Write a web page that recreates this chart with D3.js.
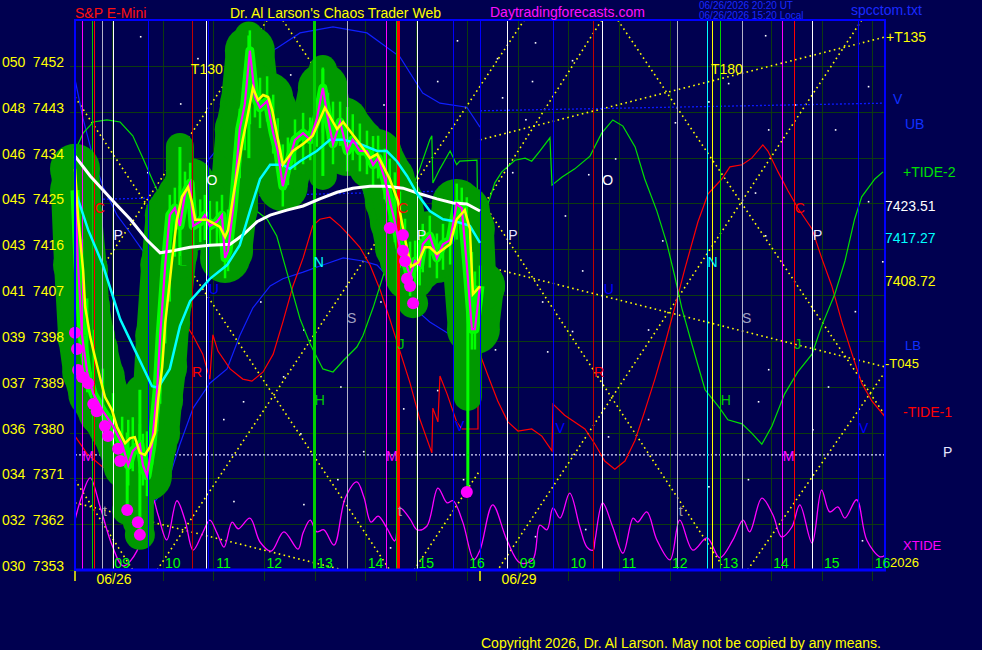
<!DOCTYPE html>
<html>
<head>
<meta charset="utf-8">
<script src="https://cdn.jsdelivr.net/npm/d3@7"></script>
<style>
  html, body { margin: 0; padding: 0; background: #000050; }
  svg { display: block; font-family: 'Liberation Sans', Arial, sans-serif; }
</style>
</head>
<body>
<svg id="chart" width="982" height="650"></svg>
<script>
// time is in session hours: 0 = 09:00 on 06/26, 8 = 09:00 on 06/29
const yTicks = [7353, 7362, 7371, 7380, 7389, 7398, 7407, 7416, 7425, 7434, 7443, 7452];
const yCodes = ['030', '032', '034', '036', '037', '039', '041', '043', '045', '046', '048', '050'];
const hourLabels = ['09', '10', '11', '12', '13', '14', '15', '16', '09', '10', '11', '12', '13', '14', '15', '16'];
const dayLabels = [['06/26', 0.04], ['06/29', 8.03]];
const dayStarts = [-0.73, 7.26];

const priceClose = [[-0.73,7427.6],[-0.67,7412.9],[-0.59,7399.0],[-0.49,7391.9],[-0.37,7387.6],[-0.18,7384.2],[0.02,7381.3],[0.20,7377.7],[0.32,7373.6],[0.41,7376.4],[0.55,7377.7],[0.61,7373.6],[0.69,7371.5],[0.79,7377.7],[0.89,7388.4],[0.95,7399.0],[1.05,7412.9],[1.14,7422.7],[1.24,7424.1],[1.34,7420.6],[1.44,7426.9],[1.54,7429.0],[1.60,7420.6],[1.74,7421.4],[1.83,7422.7],[1.93,7420.6],[2.07,7421.4],[2.17,7422.7],[2.23,7414.3],[2.29,7415.7],[2.39,7424.1],[2.52,7439.6],[2.62,7444.5],[2.72,7455.0],[2.82,7445.9],[2.92,7443.8],[3.06,7445.1],[3.18,7438.8],[3.27,7435.3],[3.37,7428.4],[3.47,7432.6],[3.61,7437.5],[3.77,7438.8],[3.91,7437.5],[4.04,7441.6],[4.16,7447.7],[4.26,7441.6],[4.36,7436.7],[4.50,7441.0],[4.64,7435.3],[4.75,7437.5],[4.89,7435.3],[5.03,7435.3],[5.15,7432.6],[5.25,7433.9],[5.38,7429.8],[5.48,7425.5],[5.58,7421.4],[5.68,7416.4],[5.78,7413.7],[5.88,7410.8],[5.98,7413.7],[6.07,7412.9],[6.13,7417.0],[6.27,7418.6],[6.41,7414.3],[6.53,7417.0],[6.67,7417.8],[6.80,7424.9],[6.90,7424.1],[7.00,7412.9],[7.10,7400.3],[7.16,7400.3],[7.26,7408.8]];

const priceFast = [[-0.73,7431.8],[-0.67,7422.3],[-0.57,7411.9],[-0.53,7404.7],[-0.43,7398.8],[-0.37,7396.2],[-0.24,7390.9],[-0.14,7387.0],[0,7384.4],[0.10,7381.1],[0.26,7377.9],[0.36,7378.9],[0.45,7379.1],[0.55,7376.0],[0.65,7375.6],[0.75,7377.2],[0.85,7379.9],[0.91,7386.4],[0.99,7392.9],[1.05,7401.5],[1.10,7406.0],[1.20,7415.3],[1.28,7421.8],[1.38,7426.3],[1.50,7428.2],[1.58,7425.1],[1.64,7421.8],[1.74,7421.8],[1.87,7421.8],[1.99,7421.2],[2.13,7420.4],[2.23,7418.4],[2.29,7419.8],[2.39,7426.3],[2.49,7432.2],[2.58,7437.5],[2.66,7441.4],[2.78,7447.7],[2.88,7445.3],[2.98,7446.3],[3.08,7445.9],[3.16,7443.4],[3.37,7432.6],[3.57,7435.3],[3.77,7436.7],[3.96,7438.3],[4.20,7443.8],[4.44,7439.6],[4.56,7441.0],[4.89,7436.7],[5.09,7433.9],[5.23,7434.7],[5.48,7429.8],[5.64,7425.5],[5.78,7418.0],[5.90,7412.6],[6.04,7413.4],[6.17,7416.4],[6.27,7416.4],[6.41,7415.1],[6.67,7417.0],[6.80,7421.9],[6.96,7423.7],[7.06,7420.0],[7.12,7407.2],[7.26,7408.72]];

const priceMid = [[-0.73,7427.6],[-0.47,7419.8],[-0.18,7412.9],[0.16,7402.3],[0.49,7395.4],[0.79,7389.1],[0.91,7388.8],[1.14,7392.5],[1.34,7400.9],[1.54,7405.8],[1.93,7410.2],[2.27,7412.9],[2.52,7416.8],[2.72,7423.5],[2.92,7429.8],[3.12,7432.6],[3.37,7432.6],[3.51,7431.8],[3.71,7433.3],[4.04,7435.3],[4.30,7437.5],[4.56,7437.5],[4.89,7436.7],[5.23,7435.3],[5.42,7435.3],[5.62,7433.3],[5.82,7430.4],[6.02,7426.9],[6.27,7423.5],[6.53,7421.9],[6.80,7421.4],[7.06,7420.6],[7.26,7417.27]];

const priceSlow = [[-0.73,7434.3],[-0.43,7430.4],[0.02,7425.5],[0.36,7421.9],[0.69,7417.8],[0.95,7415.3],[1.20,7415.7],[1.54,7416.4],[1.93,7416.8],[2.33,7417.0],[2.58,7418.8],[2.86,7421.4],[3.12,7422.7],[3.45,7423.7],[3.77,7424.5],[4.10,7425.9],[4.44,7427.2],[4.75,7428.0],[5.09,7428.4],[5.42,7428.4],[5.74,7428.0],[6.07,7426.9],[6.41,7425.9],[6.73,7425.1],[7.00,7424.9],[7.26,7423.51]];

// price bars that stick out of the band: [time, low, high, lowest point still inside the halo]
const barSpikes = [[0.30,7365.0,7380.0,7365.0],[0.55,7360.5,7388.4,7360.5],[1.34,7412.9,7436.1,7412.9],[2.70,7433.9,7458.0,7433.9],[4.16,7430.4,7451.4,7430.4],[7.02,7368.3,7408.0,7387.0]];

const lowDots = [[-0.73,7399.6],[-0.69,7396.4],[-0.67,7392.3],[-0.59,7390.9],[-0.47,7389.7],[-0.37,7385.6],[-0.30,7384.2],[-0.14,7381.3],[-0.08,7379.3],[0.12,7376.8],[0.16,7374.4],[0.30,7364.8],[0.51,7362.4],[0.55,7359.9],[5.48,7420.2],[5.74,7418.8],[5.74,7415.7],[5.78,7413.7],[5.82,7410.2],[5.88,7408.8],[5.94,7405.4],[7.00,7368.3]];

const tide2 = [[-0.73,7435.3],[-0.57,7438.8],[-0.37,7441.0],[-0.10,7441.4],[0.16,7441.0],[0.41,7438.3],[0.61,7433.9],[0.79,7429.8],[0.95,7426.3],[1.14,7423.3],[1.34,7421.8],[1.64,7421.0],[1.93,7421.4],[2.23,7422.1],[2.47,7422.7],[2.78,7424.1],[3.06,7421.9],[3.25,7418.6],[3.45,7411.5],[3.71,7402.3],[3.91,7397.4],[4.16,7392.5],[4.36,7391.9],[4.56,7394.1],[4.83,7396.8],[4.95,7399.0],[5.15,7404.5],[5.35,7410.8],[5.54,7417.0],[5.74,7422.7],[5.94,7428.4],[6.07,7431.8],[6.27,7437.5],[6.31,7438.3],[6.33,7429.0],[6.47,7431.8],[6.67,7435.3],[6.80,7432.6],[6.86,7433.3],[7.20,7433.5],[7.22,7417.8],[7.26,7420.0],[7.55,7429.0],[7.69,7431.2],[7.95,7433.5],[8.15,7433.9],[8.28,7433.3],[8.44,7435.3],[8.64,7437.9],[8.68,7428.6],[8.88,7430.2],[9.13,7431.8],[9.43,7434.3],[9.66,7438.8],[9.88,7441.4],[10.08,7440.2],[10.32,7436.1],[10.51,7429.8],[10.75,7423.5],[10.95,7417.0],[11.10,7410.8],[11.24,7404.5],[11.44,7397.4],[11.70,7388.4],[11.99,7384.8],[12.15,7382.5],[12.43,7381.7],[12.62,7379.9],[12.82,7377.7],[13.02,7381.3],[13.27,7387.6],[13.53,7391.9],[13.81,7395.4],[14.00,7400.9],[14.26,7407.2],[14.46,7413.7],[14.65,7421.9],[14.79,7426.3],[15.05,7429.8],[15.21,7431.2]];

const tide1 = [[-0.73,7379.3],[-0.49,7375.8],[-0.18,7373.2],[0.16,7372.8],[0.49,7375.0],[0.81,7380.7],[1.08,7386.2],[1.28,7391.1],[1.30,7400.9],[1.48,7400.9],[1.60,7399.0],[1.79,7395.4],[1.93,7390.5],[1.99,7399.2],[2.09,7396.0],[2.33,7392.5],[2.58,7390.5],[2.76,7390.1],[2.98,7391.9],[3.18,7395.4],[3.37,7401.7],[3.57,7408.8],[3.77,7414.3],[3.96,7420.6],[4.10,7421.9],[4.30,7422.3],[4.50,7420.6],[4.69,7418.6],[4.89,7416.4],[5.09,7412.9],[5.29,7408.0],[5.48,7402.3],[5.68,7396.0],[5.88,7389.7],[6.07,7382.7],[6.31,7376.0],[6.33,7384.8],[6.43,7382.1],[6.47,7391.1],[6.61,7387.6],[6.80,7382.1],[6.90,7380.7],[7.22,7380.7],[7.22,7397.6],[7.26,7395.4],[7.42,7391.1],[7.61,7386.2],[7.81,7382.1],[8.01,7380.3],[8.28,7380.7],[8.48,7379.3],[8.68,7376.4],[8.70,7385.6],[8.93,7383.4],[9.33,7380.7],[9.53,7377.7],[9.72,7374.4],[9.92,7372.8],[10.12,7374.4],[10.32,7378.5],[10.51,7384.2],[10.71,7390.5],[10.91,7397.4],[11.10,7404.5],[11.30,7412.1],[11.56,7421.4],[11.76,7426.9],[12.03,7429.8],[12.19,7432.2],[12.43,7432.6],[12.62,7433.9],[12.84,7436.5],[12.94,7435.3],[13.14,7431.2],[13.33,7427.6],[13.53,7424.1],[13.81,7420.0],[14.00,7414.3],[14.20,7408.8],[14.40,7401.7],[14.60,7395.4],[14.79,7389.7],[14.99,7386.2],[15.25,7383.1]];

const xtide = [[-0.73,7362.8],[-0.59,7367.7],[-0.43,7371.1],[-0.24,7365.6],[0.00,7357.9],[0.22,7353.8],[0.49,7356.7],[0.69,7366.8],[0.79,7367.3],[0.91,7363.8],[1.08,7358.9],[1.28,7366.6],[1.44,7362.8],[1.60,7356.9],[1.78,7360.1],[1.93,7362.8],[2.07,7360.3],[2.21,7357.5],[2.37,7362.4],[2.49,7361.1],[2.72,7363.2],[2.92,7358.5],[3.14,7356.7],[3.39,7360.5],[3.67,7357.1],[3.77,7360.3],[3.91,7362.8],[4.04,7360.5],[4.18,7360.9],[4.38,7357.9],[4.60,7367.1],[4.83,7370.3],[4.97,7367.3],[5.11,7362.4],[5.25,7363.6],[5.42,7361.3],[5.58,7358.7],[5.68,7365.2],[5.88,7363.0],[6.02,7360.9],[6.21,7361.6],[6.43,7369.1],[6.61,7366.2],[6.73,7366.6],[6.92,7362.4],[7.14,7355.0],[7.26,7356.9],[7.51,7365.8],[7.79,7358.9],[8.05,7354.4],[8.30,7355.0],[8.44,7361.8],[8.58,7360.9],[8.70,7365.2],[8.84,7363.2],[9.03,7368.1],[9.23,7361.4],[9.37,7357.5],[9.49,7356.9],[9.53,7358.9],[9.68,7366.2],[9.88,7361.4],[10.08,7356.3],[10.28,7363.2],[10.37,7362.4],[10.55,7364.4],[10.75,7358.9],[11.01,7355.0],[11.20,7362.8],[11.46,7356.9],[11.74,7359.3],[11.99,7355.4],[12.25,7358.9],[12.45,7362.8],[12.58,7360.5],[12.82,7367.1],[13.04,7363.8],[13.21,7359.5],[13.41,7361.4],[13.57,7365.8],[13.81,7358.3],[14.00,7368.7],[14.16,7364.4],[14.32,7365.4],[14.46,7363.2],[14.69,7366.8],[14.89,7358.9],[15.15,7355.6],[15.25,7355.9]];

const bandUpper = [[-0.73,7449.4],[-0.57,7441.6],[-0.37,7433.9],[-0.18,7428.4],[0.10,7422.7],[0.36,7419.2],[0.61,7415.7],[0.81,7412.3],[1.01,7412.3],[1.20,7416.8],[1.40,7424.7],[1.68,7430.6],[1.93,7433.9],[2.33,7438.8],[2.72,7450.8],[2.98,7454.2],[3.25,7455.5],[3.71,7458.5],[4.36,7459.7],[5.03,7458.5],[5.68,7453.8],[6.13,7446.7],[6.47,7444.7],[7.00,7443.9],[7.26,7440.0]];

const bandLower = [[0.55,7362.8],[0.81,7366.0],[1.01,7368.7],[1.14,7371.5],[1.34,7377.7],[1.60,7384.8],[1.93,7389.7],[2.27,7392.5],[2.52,7399.0],[2.78,7404.5],[3.12,7408.8],[3.37,7410.2],[3.77,7411.5],[4.16,7412.9],[4.56,7414.3],[4.95,7413.7],[5.23,7412.9],[5.48,7410.2],[5.74,7406.6],[6.02,7403.9],[6.27,7401.7],[6.61,7399.6],[6.92,7398.6],[7.26,7399.0]];

const vLevels = [[[-0.73,7425.7],[7.26,7427.6]], [[7.26,7443.2],[15.25,7444.7]]];
const midLevel = 7375.6;

const trendLines = [
  [[-0.73,7445.9],[5.48,7353]],
  [[3.06,7461.0],[-0.73,7404.5]],
  [[3.37,7461.0],[7.26,7403.1]],
  [[-0.73,7370.7],[0.41,7353]],
  [[0.89,7353],[8.13,7461.0]],
  [[5.96,7353],[7.26,7372.6]],
  [[-0.73,7366.2],[4.56,7353]],
  [[9.66,7461.0],[7.16,7422.0]],
  [[9.98,7461.0],[15.25,7383.4]],
  [[14.79,7461.0],[7.61,7353]],
  [[7.30,7425.5],[12.03,7354.0]],
  [[12.54,7353],[15.25,7391.9]],
  [[7.26,7437.5],[15.25,7457.7]],
  [[7.26,7412.9],[15.25,7392.9]]
];

const cycleLines = {
  white: [0.02, 1.85, 6.02, 7.79, 9.66, 13.81],
  blue: [0.71, 1.89, 6.73, 7.26, 8.70, 14.71],
  magenta: [-0.59, 5.40, 13.21],
  red: [-0.36, 5.64, 13.45],
  darkred: [1.58, 9.49],
  green: [-0.39, 3.98, 5.60, 11.99],
  grey: [-0.20, 4.64, 11.14, 12.43],
  cyan: [11.74],
  yellow: [11.83]
};
const boldCycles = [3.98, 5.64];

const letters = [['C',-0.24,7424.1],['P',0.12,7418.8],['O',1.97,7429.6],['L',1.40,7413.7],['U',2.01,7408.2],['R',1.68,7391.9],['N',4.08,7413.5],['S',4.73,7402.5],['H',4.10,7386.4],['M',-0.47,7375.4],['M',5.52,7375.4],['M',13.35,7375.4],['t',-0.14,7364.6],['t',5.68,7364.6],['t',11.22,7364.6],['J',5.70,7397.4],['J',13.53,7397.4],['C',5.74,7424.1],['C',13.57,7424.1],['P',6.11,7418.8],['P',7.91,7418.8],['P',13.92,7418.8],['V',6.86,7381.3],['V',8.84,7380.9],['V',14.83,7380.9],['O',9.78,7429.6],['U',9.80,7408.2],['R',9.61,7391.9],['N',11.85,7413.5],['S',12.52,7402.5],['H',12.11,7386.4]];
const timeMarks = [['T130',1.87,7451.4],['T180',12.13,7451.4]];

const stars = [[0.55,7457.9],[1.34,7444.7],[0.69,7431.2],[3.12,7455.7],[3.51,7450.4],[2.58,7441.0],[1.68,7453.6],[5.09,7438.8],[6.41,7449.1],[6.80,7457.1],[5.29,7405.8],[2.92,7405.8],[3.77,7400.3],[3.37,7391.1],[2.58,7386.2],[2.19,7382.7],[3.71,7379.9],[4.50,7389.1],[5.74,7384.8],[4.95,7376.4],[4.44,7370.9],[2.39,7366.6],[3.77,7366.0],[5.48,7357.5],[6.92,7370.9],[6.41,7388.4],[5.35,7444.5],[7.59,7453.6],[8.34,7456.7],[9.07,7453.2],[8.28,7449.1],[7.69,7445.9],[8.15,7441.6],[7.89,7431.2],[9.39,7430.8],[8.93,7422.7],[9.27,7411.9],[8.48,7405.8],[9.07,7400.0],[7.55,7396.4],[8.58,7396.0],[10.57,7400.3],[10.85,7417.8],[9.92,7433.9],[11.10,7441.0],[11.76,7445.1],[12.15,7448.7],[12.88,7458.1],[13.47,7444.5],[12.94,7439.6],[12.68,7427.2],[12.88,7418.8],[12.94,7392.5],[12.74,7386.2],[13.81,7380.7],[14.12,7389.1],[14.65,7403.9],[14.91,7448.1],[14.26,7439.6],[14.91,7425.5],[15.19,7413.7],[9.78,7379.3],[10.57,7382.7],[11.76,7369.5],[12.54,7370.9],[8.34,7359.7],[9.33,7361.1],[14.79,7358.9]];

const NAVY = '#000050';
const GRID = '#0d3a10';
const BLOB = '#009900';
const LIME = '#00ff00';
const cycleColor = {
  white: '#ffffff', blue: '#0000ff', magenta: '#ff00ff', red: '#ff0000', darkred: '#c00000',
  green: '#00d000', grey: '#b4b4c8', cyan: '#00ffff', yellow: '#ffff00'
};
const letterColor = {
  C: '#ff0000', P: '#e6e6ff', O: '#ffffff', L: '#00c800', U: '#0000ff', R: '#ff0000', N: '#00ffff',
  S: '#a0a0c0', H: '#00c800', M: '#ff00ff', t: '#a0a0a0', J: '#00c800', V: '#0000ff'
};

const PLOT = { left: 75, right: 885, top: 20, bottom: 570 };
const x = d3.scaleLinear().domain([-0.73, 15.25]).range([PLOT.left, PLOT.right]);
const y = d3.scaleLinear().domain([7353, 7452]).range([570, 66]);
const line = d3.line().x((d) => x(d[0])).y((d) => y(d[1]));
const smooth = d3.line().x((d) => x(d[0])).y((d) => y(d[1])).curve(d3.curveCatmullRom.alpha(0.5));

const valueAt = (s, t) => {
  const i = d3.bisector((d) => d[0]).left(s, t);
  if (i <= 0) return s[0][1];
  if (i >= s.length) return s[s.length - 1][1];
  const a = s[i - 1], b = s[i];
  return a[1] + (b[1] - a[1]) * (t - a[0]) / (b[0] - a[0]);
};

const svg = d3.select('#chart');
svg.append('rect').attr('width', 982).attr('height', 650).attr('fill', NAVY);
svg.append('defs').append('clipPath').attr('id', 'plotClip')
  .append('rect')
  .attr('x', PLOT.left).attr('y', PLOT.top)
  .attr('width', PLOT.right - PLOT.left).attr('height', PLOT.bottom - PLOT.top);

// grid
const grid = svg.append('g').attr('shape-rendering', 'crispEdges').attr('stroke', GRID);
grid.selectAll('line.h').data(yTicks).enter().append('line').attr('class', 'h')
  .attr('x1', 70).attr('x2', PLOT.right)
  .attr('y1', (d) => Math.round(y(d)) + 0.5).attr('y2', (d) => Math.round(y(d)) + 0.5);
grid.selectAll('line.v').data(d3.range(16)).enter().append('line').attr('class', 'v')
  .attr('x1', (d) => Math.round(x(d)) + 0.5).attr('x2', (d) => Math.round(x(d)) + 0.5)
  .attr('y1', PLOT.top).attr('y2', 581);

const plot = svg.append('g').attr('clip-path', 'url(#plotClip)');

plot.selectAll('rect.star').data(stars).enter().append('rect').attr('class', 'star')
  .attr('x', (d) => x(d[0])).attr('y', (d) => y(d[1]))
  .attr('width', 1.6).attr('height', 1.6).attr('fill', '#ffffff');

// trend lines and levels
plot.selectAll('path.trend').data(trendLines).enter().append('path').attr('class', 'trend')
  .attr('d', line).attr('fill', 'none').attr('stroke', '#ffff00')
  .attr('stroke-width', 1.6).attr('stroke-dasharray', '1.6 3.4');
plot.selectAll('path.vlevel').data(vLevels).enter().append('path').attr('class', 'vlevel')
  .attr('d', line).attr('fill', 'none').attr('stroke', '#0a1aff')
  .attr('stroke-width', 1.3).attr('stroke-dasharray', '2 2');
plot.append('line')
  .attr('x1', PLOT.left).attr('x2', PLOT.right)
  .attr('y1', y(midLevel)).attr('y2', y(midLevel))
  .attr('stroke', '#e0e0ff').attr('stroke-width', 1.3).attr('stroke-dasharray', '2 2');

// bands and tides
plot.append('path').attr('d', line(bandUpper)).attr('fill', 'none').attr('stroke', '#1020ff').attr('stroke-width', 1.2);
plot.append('path').attr('d', line(bandLower)).attr('fill', 'none').attr('stroke', '#1020ff').attr('stroke-width', 1.2);
plot.append('path').attr('d', line(tide1)).attr('fill', 'none').attr('stroke', '#ff0000').attr('stroke-width', 1.2);
plot.append('path').attr('d', line(tide2)).attr('fill', 'none').attr('stroke', '#00e000').attr('stroke-width', 1.2);
plot.append('path').attr('d', smooth(xtide)).attr('fill', 'none').attr('stroke', '#ff00ff').attr('stroke-width', 1.3);

// price band: dark green halo of round bars, lime bar bodies
const band = svg.append('g');
[priceClose, priceFast].forEach((s) => {
  band.append('path').attr('d', line(s)).attr('fill', 'none').attr('stroke', BLOB)
    .attr('stroke-width', 48).attr('stroke-linecap', 'round').attr('stroke-linejoin', 'round');
  band.selectAll(null).data(s).enter().append('circle')
    .attr('cx', (d) => x(d[0])).attr('cy', (d) => y(d[1])).attr('r', 25).attr('fill', BLOB);
});
band.selectAll('line.halo').data(barSpikes).enter().append('line').attr('class', 'halo')
  .attr('x1', (d) => x(d[0])).attr('x2', (d) => x(d[0]))
  .attr('y1', (d) => y(d[3])).attr('y2', (d) => y(d[2]))
  .attr('stroke', BLOB).attr('stroke-width', 28).attr('stroke-linecap', 'round');
band.selectAll('circle.halo').data(lowDots.filter((d) => d[0] < 7)).enter().append('circle').attr('class', 'halo')
  .attr('cx', (d) => x(d[0])).attr('cy', (d) => y(d[1])).attr('r', 15).attr('fill', BLOB);
// each bar spans from its close to the fast average, with a little overhang
band.selectAll('line.body').data(priceClose).enter().append('line').attr('class', 'body')
  .attr('x1', (d) => x(d[0])).attr('x2', (d) => x(d[0]))
  .attr('y1', (d) => y(Math.max(d[1], valueAt(priceFast, d[0])) + 4))
  .attr('y2', (d) => y(Math.min(d[1], valueAt(priceFast, d[0])) - 4))
  .attr('stroke', LIME).attr('stroke-width', 2.5);
band.append('path').attr('d', line(priceClose)).attr('fill', 'none').attr('stroke', LIME)
  .attr('stroke-width', 9).attr('stroke-linejoin', 'round');
band.selectAll('line.bar').data(barSpikes).enter().append('line').attr('class', 'bar')
  .attr('x1', (d) => x(d[0])).attr('x2', (d) => x(d[0]))
  .attr('y1', (d) => y(d[1])).attr('y2', (d) => y(d[2]))
  .attr('stroke', LIME).attr('stroke-width', 3);

// vertical cycle lines
const cycles = svg.append('g').attr('shape-rendering', 'crispEdges');
Object.entries(cycleLines).forEach(([kind, times]) => {
  cycles.selectAll(`line.${kind}`).data(times).enter().append('line').attr('class', kind)
    .attr('x1', (d) => Math.round(x(d)) + 0.5).attr('x2', (d) => Math.round(x(d)) + 0.5)
    .attr('y1', PLOT.top).attr('y2', PLOT.bottom)
    .attr('stroke', cycleColor[kind])
    .attr('stroke-width', (d) => (boldCycles.includes(d) ? 2.5 : 1.2));
});

// averages and closes
svg.append('path').attr('d', line(priceSlow)).attr('fill', 'none').attr('stroke', '#ffffff').attr('stroke-width', 3);
svg.append('path').attr('d', line(priceMid)).attr('fill', 'none').attr('stroke', '#00ffff').attr('stroke-width', 2.5);
svg.append('path').attr('d', line(priceClose)).attr('fill', 'none').attr('stroke', '#ff00ff').attr('stroke-width', 2.2);
svg.append('path').attr('d', line(priceFast)).attr('fill', 'none').attr('stroke', '#ffff00').attr('stroke-width', 2.5);
svg.selectAll('circle.low').data(lowDots).enter().append('circle').attr('class', 'low')
  .attr('cx', (d) => x(d[0])).attr('cy', (d) => y(d[1])).attr('r', 6).attr('fill', '#ff00ff');

// letters
svg.selectAll('text.letter').data(letters).enter().append('text').attr('class', 'letter')
  .attr('x', (d) => x(d[1])).attr('y', (d) => y(d[2])).attr('dy', '0.36em')
  .attr('text-anchor', 'middle').attr('font-size', 14)
  .attr('fill', (d) => letterColor[d[0]]).text((d) => d[0]);
svg.selectAll('text.tmark').data(timeMarks).enter().append('text').attr('class', 'tmark')
  .attr('x', (d) => x(d[1])).attr('y', (d) => y(d[2])).attr('dy', '0.36em')
  .attr('text-anchor', 'middle').attr('font-size', 14).attr('fill', '#ffff00').text((d) => d[0]);

// frame
svg.append('rect')
  .attr('x', PLOT.left).attr('y', PLOT.top)
  .attr('width', PLOT.right - PLOT.left).attr('height', PLOT.bottom - PLOT.top)
  .attr('fill', 'none').attr('stroke', '#0000ff').attr('stroke-width', 2);
svg.append('line').attr('x1', PLOT.left - 1).attr('x2', PLOT.right + 1)
  .attr('y1', PLOT.bottom).attr('y2', PLOT.bottom).attr('stroke', '#0000ff').attr('stroke-width', 3);

// y labels
const yl = svg.append('g').attr('font-size', 14).attr('fill', '#ffff00');
yl.selectAll('text.code').data(yTicks).enter().append('text').attr('class', 'code')
  .attr('x', 2).attr('y', (d) => y(d) + 1).text((d, i) => yCodes[i]);
yl.selectAll('text.price').data(yTicks).enter().append('text').attr('class', 'price')
  .attr('x', 64).attr('y', (d) => y(d) + 1).attr('text-anchor', 'end').text((d) => d);

// x labels
svg.selectAll('text.hour').data(hourLabels).enter().append('text').attr('class', 'hour')
  .attr('x', (d, i) => x(i + 0.2)).attr('y', 568).attr('text-anchor', 'middle')
  .attr('font-size', 14).attr('fill', LIME).text((d) => d);
svg.selectAll('line.day').data(dayStarts).enter().append('line').attr('class', 'day')
  .attr('x1', (d) => x(d)).attr('x2', (d) => x(d)).attr('y1', 571).attr('y2', 581)
  .attr('stroke', '#ffff00').attr('stroke-width', 1.5);
svg.selectAll('text.day').data(dayLabels).enter().append('text').attr('class', 'day')
  .attr('x', (d) => x(d[1])).attr('y', 584).attr('text-anchor', 'middle')
  .attr('font-size', 14).attr('fill', '#ffff00').text((d) => d[0]);

// right side labels
const lastOf = (s) => s[s.length - 1][1];
const rightLabels = [
  ['+T135', 886, 7456.7, '#ffff00', 14],
  ['V', 893, 7444.5, '#1030ff', 14],
  ['UB', 905, 7439.6, '#1030ff', 14],
  ['+TIDE-2', 903, 7430.2, '#00e000', 14],
  [lastOf(priceSlow).toFixed(2), 885, lastOf(priceSlow), '#ffffff', 14],
  [lastOf(priceMid).toFixed(2), 885, lastOf(priceMid), '#00ffff', 14],
  [lastOf(priceFast).toFixed(2), 885, lastOf(priceFast), '#ffff00', 14],
  ['LB', 905, 7396.3, '#1030ff', 13],
  ['-T045', 885, 7392.7, '#ffff00', 13],
  ['-TIDE-1', 903, 7383.1, '#ff0000', 14],
  ['P', 943, 7375.2, '#e6e6ff', 14],
  ['XTIDE', 903, 7357.0, '#ff00ff', 13],
  ['2026', 890, 7353.5, '#ffff00', 13]
];
svg.selectAll('text.right').data(rightLabels).enter().append('text').attr('class', 'right')
  .attr('x', (d) => d[1]).attr('y', (d) => y(d[2])).attr('font-size', (d) => d[4])
  .attr('fill', (d) => d[3]).text((d) => d[0]);

// header
const head = svg.append('g').attr('font-size', 14);
head.append('text').attr('x', 75).attr('y', 18).attr('fill', '#ff1010').text('S&P E-Mini');
head.append('text').attr('x', 230).attr('y', 18).attr('fill', '#ffff00').text("Dr. Al Larson's Chaos Trader Web");
head.append('text').attr('x', 490).attr('y', 17).attr('fill', '#ff10ff').text('Daytradingforecasts.com');
head.append('text').attr('x', 851).attr('y', 15).attr('fill', '#1a2aff').text('spcctom.txt');
head.append('text').attr('x', 699).attr('y', 9).attr('font-size', 10).attr('fill', '#1a2aff').text('06/26/2026 20:20 UT');
head.append('text').attr('x', 699).attr('y', 18.5).attr('font-size', 10).attr('fill', '#1a2aff').text('06/26/2026 15:20 Local');

svg.append('text').attr('x', 481).attr('y', 648).attr('font-size', 14).attr('fill', '#ffff00')
  .text('Copyright 2026, Dr. Al Larson. May not be copied by any means.');
</script>
</body>
</html>
